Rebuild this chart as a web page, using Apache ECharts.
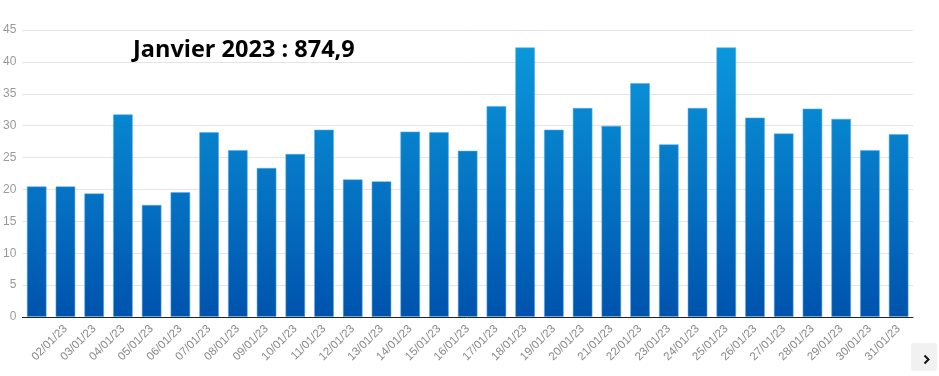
<!DOCTYPE html>
<html>
<head>
<meta charset="utf-8">
<title>Janvier 2023</title>
<script src="https://cdn.jsdelivr.net/npm/echarts@6/dist/echarts.min.js"></script>
<style>
  html, body { margin: 0; padding: 0; background: #fff; }
  #main { width: 939px; height: 376px; }
</style>
</head>
<body>
<div id="main"></div>
<script>
'use strict';

// jours de janvier 2023
const days = [
  '01/01/23', '02/01/23', '03/01/23', '04/01/23', '05/01/23', '06/01/23', '07/01/23',
  '08/01/23', '09/01/23', '10/01/23', '11/01/23', '12/01/23', '13/01/23', '14/01/23',
  '15/01/23', '16/01/23', '17/01/23', '18/01/23', '19/01/23', '20/01/23', '21/01/23',
  '22/01/23', '23/01/23', '24/01/23', '25/01/23', '26/01/23', '27/01/23', '28/01/23',
  '29/01/23', '30/01/23', '31/01/23'
];
const values = [
  20.5, 20.5, 19.4, 31.8, 17.6, 19.6, 29.0, 26.2, 23.4, 25.6, 29.4,
  21.6, 21.3, 29.1, 29.0, 26.1, 33.1, 42.3, 29.4, 32.8, 30.0, 36.7,
  27.1, 32.8, 42.3, 31.3, 28.8, 32.7, 31.1, 26.2, 28.7
];
const yTicks = [0, 5, 10, 15, 20, 25, 30, 35, 40, 45];
const titleText = 'Janvier 2023 : 874,9';

const chart = echarts.init(document.getElementById('main'));

chart.setOption({
  animation: false,
  backgroundColor: '#fff',
  title: {
    text: titleText,
    left: 128,
    top: 33,
    textStyle: {
      fontFamily: 'Open Sans',
      fontWeight: 'bold',
      fontSize: 23.5,
      color: '#000'
    }
  },
  grid: { left: 22, right: 26, top: 30, bottom: 59 },
  xAxis: {
    type: 'category',
    data: days,
    axisTick: { show: false },
    axisLine: { lineStyle: { color: '#222', width: 1 } },
    axisLabel: {
      rotate: 45,
      margin: 10,
      // le premier libellé est masqué (hors vue dans l'original)
      interval: (idx) => idx > 0,
      color: '#888',
      fontFamily: 'Liberation Sans',
      fontSize: 11.5
    }
  },
  yAxis: {
    type: 'value',
    min: yTicks[0],
    max: yTicks[yTicks.length - 1],
    interval: 5,
    axisLine: { show: false },
    axisTick: { show: false },
    axisLabel: {
      margin: 6,
      color: '#999',
      fontFamily: 'Liberation Sans',
      fontSize: 12
    },
    splitLine: { lineStyle: { color: '#e4e4e4' } }
  },
  series: [{
    type: 'bar',
    data: values,
    barWidth: 20,
    itemStyle: {
      borderColor: 'rgba(90,175,235,0.55)',
      borderWidth: 1,
      color: new echarts.graphic.LinearGradient(0, 30, 0, 317, [
        { offset: 0, color: '#0b9cdf' },
        { offset: 1, color: '#0053ad' }
      ], true)
    }
  }],
  graphic: [{
    type: 'rect',
    right: 2,
    top: 343,
    shape: { width: 26, height: 28, r: 3 },
    style: { fill: '#f1f1f1' }
  }, {
    type: 'polyline',
    left: 922,
    top: 353,
    shape: { points: [[0, 0], [4, 4], [0, 8]] },
    style: { stroke: '#111', lineWidth: 2, fill: null }
  }]
});
</script>
</body>
</html>
